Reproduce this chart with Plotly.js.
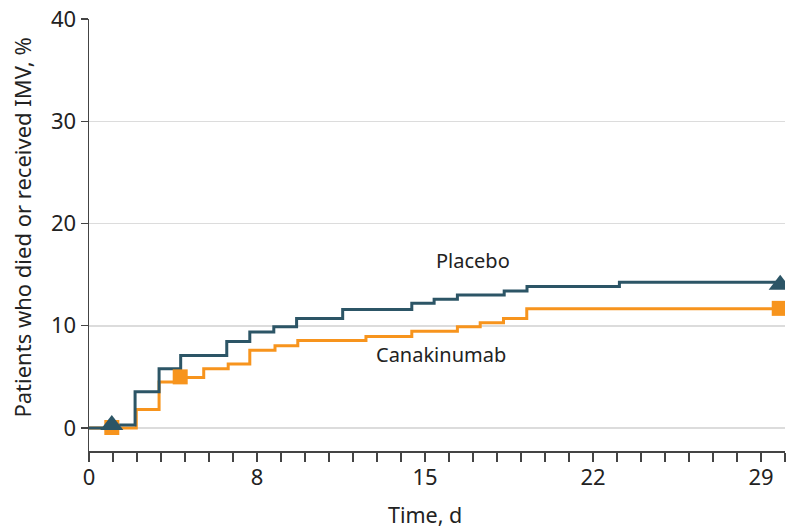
<!DOCTYPE html>
<html>
<head>
<meta charset="utf-8">
<script src="https://cdn.plot.ly/plotly-3.0.1.min.js"></script>
<style>html,body{margin:0;padding:0;background:#fff;}#chart{width:800px;height:532px;}</style>
</head>
<body>
<div id="chart"></div>
<script>
// Kaplan-Meier style cumulative incidence (%), step positions in days (axis units)
const placeboDays = [0, 0.95, 1.92, 2.92, 3.82, 5.74, 6.7, 7.7, 8.65, 10.57, 13.45, 14.38, 15.35, 17.3, 18.25, 22.1, 28.8];
const placeboPct  = [0, 0.3, 3.55, 5.8, 7.1, 8.45, 9.4, 9.9, 10.7, 11.6, 12.2, 12.6, 13.0, 13.4, 13.85, 14.25, 14.25];
const canakDays   = [0, 1.97, 2.92, 3.8, 4.78, 5.8, 6.7, 7.75, 8.7, 11.54, 13.45, 15.35, 16.3, 17.27, 18.24, 28.8];
const canakPct    = [0, 1.8, 4.5, 4.95, 5.8, 6.25, 7.6, 8.05, 8.55, 8.95, 9.45, 9.9, 10.3, 10.7, 11.65, 11.65];
// markers
const placeboMarkDays = [0.95, 28.8];
const placeboMarkPct  = [0.3, 14.0];
const canakMarkDays   = [0.95, 3.8, 28.76];
const canakMarkPct    = [0.05, 5.0, 11.7];
// axis ticks
const xTickVals  = [0, 7, 14, 21, 28];
const xTickText  = ['0', '8', '15', '22', '29'];
const yTickVals  = [0, 10, 20, 30, 40];

const teal = '#2c5566';
const orange = '#f7941d';
const FONT = 'Noto Sans, DejaVu Sans, sans-serif';

const traces = [
  {x: canakDays, y: canakPct, type: 'scatter', mode: 'lines', line: {shape: 'hv', color: orange, width: 3}, name: 'Canakinumab', hoverinfo: 'skip'},
  {x: placeboDays, y: placeboPct, type: 'scatter', mode: 'lines', line: {shape: 'hv', color: teal, width: 3}, name: 'Placebo', hoverinfo: 'skip'},
  {x: canakMarkDays, y: canakMarkPct, type: 'scatter', mode: 'markers', marker: {symbol: 'square', size: 15, color: orange}, hoverinfo: 'skip'},
  {x: placeboMarkDays, y: placeboMarkPct, type: 'scatter', mode: 'markers', marker: {symbol: 'triangle-up', size: 20, color: teal}, hoverinfo: 'skip'}
];

const layout = {
  width: 800, height: 532,
  margin: {l: 89, r: 15, t: 19, b: 81},
  paper_bgcolor: '#fff', plot_bgcolor: '#fff',
  showlegend: false,
  font: {family: FONT, size: 20, color: '#222'},
  xaxis: {
    range: [0, 29], tickmode: 'array', tickvals: xTickVals, ticktext: xTickText,
    ticks: 'outside', ticklen: 9, tickwidth: 1.2, tickcolor: '#444',
    minor: {dtick: 1, tick0: 0, ticks: 'outside', ticklen: 9, tickwidth: 1.2, tickcolor: '#444', showgrid: false},
    showline: true, linecolor: '#444', linewidth: 1.5,
    showgrid: false, zeroline: false, ticklabelstandoff: -3,
    tickfont: {family: FONT, size: 22, color: '#222'}
  },
  yaxis: {
    range: [-2.25, 40], tickmode: 'array', tickvals: yTickVals,
    ticks: 'outside', ticklen: 7, tickwidth: 1.2, tickcolor: '#444',
    showline: true, linecolor: '#444', linewidth: 1.5,
    showgrid: true, gridcolor: '#dcdcdc', gridwidth: 1.5, zeroline: false,
    tickfont: {family: FONT, size: 22, color: '#222'}
  },
  annotations: [
    {text: 'Placebo', x: 16.0, y: 16.4, xref: 'x', yref: 'y', showarrow: false, font: {family: FONT, size: 20, color: '#222'}, xanchor: 'center', yanchor: 'middle'},
    {text: 'Canakinumab', x: 14.65, y: 7.2, xref: 'x', yref: 'y', showarrow: false, font: {family: FONT, size: 20, color: '#222'}, xanchor: 'center', yanchor: 'middle'},
    {text: 'Patients who died or received IMV, %', textangle: -90, x: 0, y: 19.6, xref: 'paper', yref: 'y', showarrow: false, font: {family: FONT, size: 22, color: '#222'}, xanchor: 'center', yanchor: 'middle'},
    {text: 'Time, d', x: 14, y: 0, xref: 'x', yref: 'paper', showarrow: false, font: {family: FONT, size: 21.5, color: '#222'}, xanchor: 'center', yanchor: 'middle'}
  ]
};
// place the axis titles at their pixel positions (paper coords)
layout.annotations[2].x = (22 - 89) / (800 - 89 - 15);
layout.annotations[3].y = -(514 - 451) / (532 - 19 - 81);

Plotly.newPlot('chart', traces, layout, {staticPlot: true, displayModeBar: false});
</script>
</body>
</html>
